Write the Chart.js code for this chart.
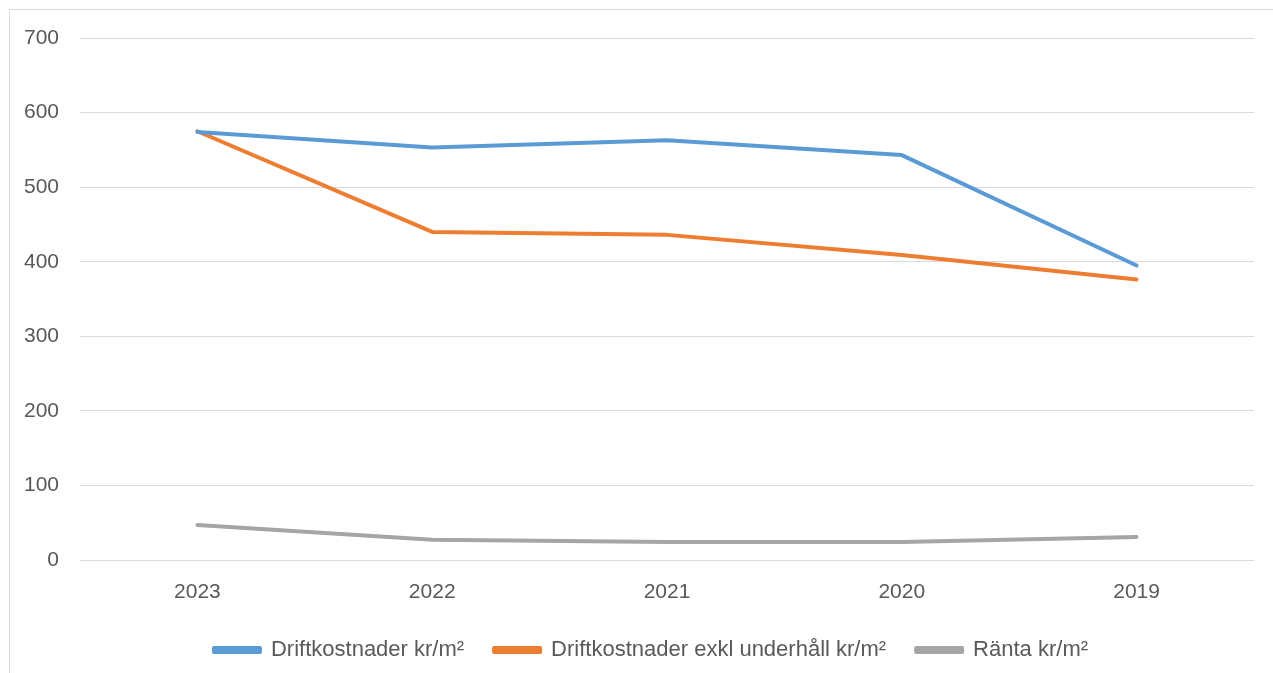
<!DOCTYPE html>
<html>
<head>
<meta charset="utf-8">
<script src="https://cdn.jsdelivr.net/npm/chart.js@4/dist/chart.umd.min.js"></script>
<style>
  html, body { margin: 0; padding: 0; background: #fff; }
  #wrap { position: relative; width: 1273px; height: 673px; overflow: hidden; }
  #frame { position: absolute; left: 9px; top: 9px; width: 1300px; height: 700px;
           border-left: 1px solid #d9d9d9; border-top: 1px solid #d9d9d9; }
  #driftChart { position: absolute; left: 0; top: 0; }
</style>
</head>
<body>
<div id="wrap">
  <div id="frame"></div>
  <canvas id="driftChart" width="1273" height="673"></canvas>
</div>
<script>
// Årtal (x-axel) och värden per serie
const years = ['2023', '2022', '2021', '2020', '2019'];
const driftkostnader = [574, 553, 563, 543, 395];
const driftExklUnderhall = [575, 440, 436, 409, 376];
const ranta = [47, 27, 24, 24, 31];
const yMax = 700;
const yStep = 100;

const textColor = '#595959';
const gridColor = '#d9d9d9';
const fontFamily = '"Liberation Sans", "Open Sans", sans-serif';

function lineSet(label, data, color) {
    return {
        label: label,
        data: data,
        borderColor: color,
        backgroundColor: color,
        borderWidth: 4,
        pointRadius: 0,
        tension: 0,
        borderCapStyle: 'round',
        borderJoinStyle: 'round'
    };
}

// flytta legenden lite åt höger (som i originalet)
const legendShift = {
    id: 'legendShift',
    afterLayout(chart) {
        if (chart.legend) {
            chart.legend.left += 24;
            chart.legend.right += 24;
        }
    }
};

const ctx = document.getElementById('driftChart').getContext('2d');
window.driftChartInstance = new Chart(ctx, {
    type: 'line',
    data: {
        labels: years,
        datasets: [
            lineSet('Driftkostnader kr/m²', driftkostnader, '#5b9bd5'),
            lineSet('Driftkostnader exkl underhåll kr/m²', driftExklUnderhall, '#ed7d31'),
            lineSet('Ränta kr/m²', ranta, '#a5a5a5')
        ]
    },
    plugins: [legendShift],
    options: {
        responsive: false,
        animation: false,
        devicePixelRatio: 1,
        layout: {
            padding: { left: 0, right: 19, top: 38, bottom: 2 }
        },
        plugins: {
            legend: {
                position: 'bottom',
                labels: {
                    color: textColor,
                    font: { family: fontFamily, size: 22 },
                    boxWidth: 46,
                    boxHeight: 4,
                    padding: 30
                }
            },
            tooltip: { enabled: false }
        },
        scales: {
            x: {
                offset: true,
                grid: { display: false },
                border: { display: false },
                ticks: {
                    color: textColor,
                    font: { family: fontFamily, size: 21 },
                    padding: 12,
                    maxRotation: 0
                },
                afterFit: function(axis) { axis.height = 49; }
            },
            y: {
                min: 0,
                max: yMax,
                grid: { color: gridColor, lineWidth: 1, drawTicks: false },
                border: { display: false },
                ticks: {
                    stepSize: yStep,
                    color: textColor,
                    font: { family: fontFamily, size: 21 },
                    padding: 21
                },
                afterFit: function(axis) { axis.width = 80; }
            }
        }
    }
});
</script>
</body>
</html>
